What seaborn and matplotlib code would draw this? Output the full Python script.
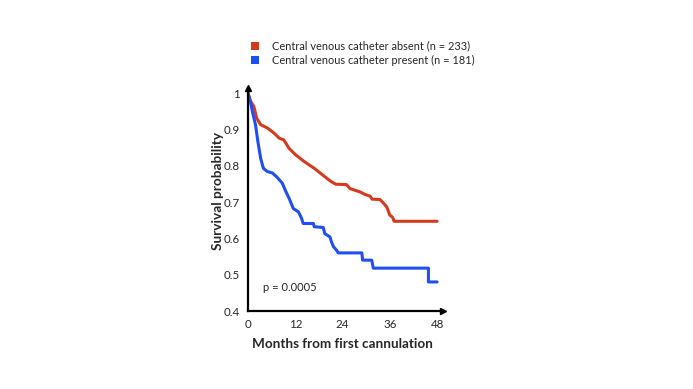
import pandas as pd
import seaborn as sns
import matplotlib.pyplot as plt
from matplotlib.patches import Patch

months_absent = [0, 0.5, 1.5, 2.2, 3.2, 4.9, 6.6, 7.9, 9.1, 10.4, 12.1, 14.2, 16.8,
                 18.9, 21.0, 22.3, 25.0, 25.9, 28.4, 29.7, 31.0, 31.5, 33.5, 34.3,
                 35.2, 36.0, 36.7, 37.1, 48]
surv_absent = [1.0, 0.98, 0.963, 0.931, 0.913, 0.904, 0.89, 0.876, 0.871, 0.848, 0.83,
               0.812, 0.793, 0.775, 0.757, 0.749, 0.748, 0.737, 0.728, 0.721, 0.716,
               0.708, 0.707, 0.698, 0.687, 0.664, 0.658, 0.647, 0.647]

months_present = [0, 0.5, 1.1, 1.9, 2.5, 3.2, 3.9, 4.9, 6.2, 7.4, 8.7, 9.6, 10.4, 11.5,
                  12.8, 13.6, 14.0, 16.6, 16.8, 19.1, 19.5, 20.8, 21.2, 21.7, 22.5,
                  22.9, 28.9, 29.1, 31.4, 31.8, 45.8, 45.8, 48]
surv_present = [1.0, 0.982, 0.95, 0.913, 0.867, 0.821, 0.793, 0.784, 0.78, 0.768, 0.752,
                0.729, 0.711, 0.682, 0.673, 0.655, 0.641, 0.641, 0.632, 0.63, 0.613,
                0.604, 0.59, 0.577, 0.567, 0.56, 0.56, 0.54, 0.54, 0.518, 0.518,
                0.48, 0.48]

groups = ["Central venous catheter absent (n = 233)",
          "Central venous catheter present (n = 181)"]
colors = ["#d63a1e", "#1f4ef5"]
x_ticks = [0, 12, 24, 36, 48]
y_ticks = [0.4, 0.5, 0.6, 0.7, 0.8, 0.9, 1.0]
y_tick_labels = ["0.4", "0.5", "0.6", "0.7", "0.8", "0.9", "1"]

df = pd.concat([
    pd.DataFrame({"Month": months_absent, "Survival": surv_absent, "Group": groups[0]}),
    pd.DataFrame({"Month": months_present, "Survival": surv_present, "Group": groups[1]}),
], ignore_index=True)

sns.set_theme(style="white")
plt.rcParams["font.family"] = ["Lato", "DejaVu Sans"]

fig = plt.figure(figsize=(6.93, 3.89), dpi=100)
ax = fig.add_axes([248 / 693, 78 / 389, 195 / 693, 223 / 389])

sns.lineplot(data=df, x="Month", y="Survival", hue="Group", palette=colors,
             estimator=None, sort=False, legend=False, linewidth=2.2, ax=ax)

ax.set_xlim(0, 49.5)
ax.set_ylim(0.4, 1.014)
ax.set_xticks(x_ticks)
ax.set_xticklabels([str(t) for t in x_ticks], fontsize=8.3)
ax.set_yticks(y_ticks)
ax.set_yticklabels(y_tick_labels, fontsize=8.3)
ax.tick_params(length=0, pad=6)

for side in ["top", "right"]:
    ax.spines[side].set_visible(False)
for side in ["left", "bottom"]:
    ax.spines[side].set_color("black")
    ax.spines[side].set_linewidth(1.6)

# fleches au bout des axes
ax.plot(1, 0, marker=">", color="black", markersize=4, transform=ax.transAxes, clip_on=False)
ax.plot(0, 1, marker="^", color="black", markersize=4, transform=ax.transAxes, clip_on=False)

ax.set_xlabel("")
ax.set_ylabel("Survival probability", fontsize=9.8, fontweight="bold")
ax.yaxis.set_label_coords(-24 / 195, 0.54)
ax.text(24, -0.15, "Months from first cannulation", transform=ax.get_xaxis_transform(),
        ha="center", va="center", fontsize=9.7, fontweight="bold")

ax.text(3.8, 0.466, "p = 0.0005", fontsize=8, va="center")

handles = [Patch(facecolor=c, edgecolor="none") for c in colors]
fig.legend(handles, groups, loc="upper left", bbox_to_anchor=(243 / 693, 1 - 33 / 389),
           frameon=False, fontsize=7.9, handlelength=0.8, handleheight=0.8,
           handletextpad=1.1, labelspacing=0.3, borderpad=0.2)

fig.savefig("out.png", dpi=100)
plt.close(fig)
